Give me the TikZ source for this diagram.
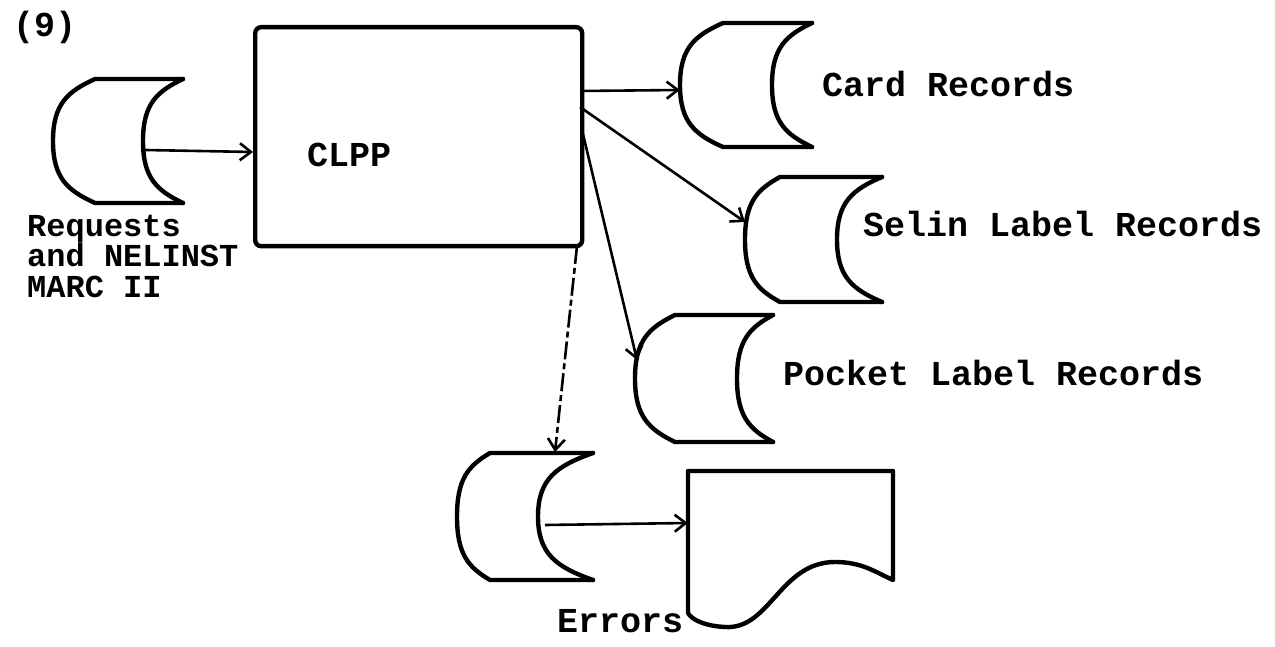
\documentclass[tikz,border=0pt]{standalone}
\usepackage{fontspec}
\setmonofont{Liberation Mono}
\usetikzlibrary{arrows.meta,fit}
\tikzset{
  tapeline/.style={line width=4.4pt, line join=round, line cap=round},
  boxline/.style={line width=4.4pt, rounded corners=6pt},
  flow/.style={line width=2.6pt, -{Straight Barb[length=11pt,width=17pt,line width=2.6pt]}},
  dashflow/.style={flow, dash pattern=on 18pt off 4pt on 6pt off 4pt},
  lbl/.style={font=\fontsize{35}{29.5}\selectfont\ttfamily\bfseries, inner sep=0pt},
  tight/.style={font=\fontsize{32}{29.5}\selectfont\ttfamily\bfseries, inner sep=0pt, text height=19pt, text depth=4pt, anchor=base west},
}
% #1 name, #2 L, #3 T, #4 B, #5 a, #6 R, #7 I
\newcommand\tapesym[7]{%
  \node[fit={(#2,#3) (#6,#4)}, inner sep=0pt] (#1) {};
  \pgfmathsetmacro\tm{(#3+#4)/2}%
  \pgfmathsetmacro\th{#4-#3}%
  \pgfmathsetmacro\td{#6-#7}%
  \draw[tapeline] (#6,#3) -- ({#2+#5},#3)
     .. controls ({#2+0.35*#5},{#3+0.1*\th}) and (#2,{\tm-0.3*\th}) .. (#2,\tm)
     .. controls (#2,{\tm+0.3*\th}) and ({#2+0.35*#5},{#4-0.1*\th}) .. ({#2+#5},#4)
     -- (#6,#4);
  \draw[tapeline] (#6,#3)
     .. controls ({#7+0.35*\td},{#3+0.1*\th}) and (#7,{\tm-0.3*\th}) .. (#7,\tm)
     .. controls (#7,{\tm+0.3*\th}) and ({#7+0.35*\td},{#4-0.1*\th}) .. (#6,#4);
}
\begin{document}
\begin{tikzpicture}[x=1pt,y=-1pt]
\useasboundingbox (0,0) rectangle (1275,647);

% label (9)
\node[lbl, anchor=base west] (num) at (13,37) {(9)};

% CLPP box
\node[boxline, draw, minimum width=327pt, minimum height=219pt, anchor=north west, inner sep=0pt] (clpp) at (253,25) {};
\node[lbl, anchor=base west] (clpptxt) at (307,167) {CLPP};

% tapes
\tapesym{req}{53}{79}{203}{42}{183}{143}
\tapesym{card}{680}{23}{147}{43}{812}{772}
\tapesym{selin}{745}{177}{302}{35}{882}{837}
\tapesym{pocket}{635}{315}{442}{40}{773}{737}
\tapesym{err}{457}{453}{580}{33}{593}{538}

% document (printout)
\node[fit={(688,471) (893,627)}, inner sep=0pt] (doc) {};
\draw[tapeline] (688,613) -- (688,471) -- (893,471) -- (893,580)
   .. controls (875,572) and (862,562) .. (835,562)
   .. controls (780,562) and (770,630) .. (725,627)
   .. controls (705,626) and (692,620) .. (688,613);

% labels
\node[tight] (reqtxt1) at (27,237) {Requests};
\node[tight] (reqtxt2) at (27,267) {and NELINST};
\node[tight] (reqtxt3) at (27,298) {MARC II};
\node[lbl, anchor=base west] (cardtxt) at (822,97) {Card Records};
\node[lbl, anchor=base west] (selintxt) at (863,237) {Selin Label Records};
\node[lbl, anchor=base west] (pockettxt) at (783,385) {Pocket Label Records};
\node[lbl, anchor=base west] (errtxt) at (557,632) {Errors};

% connectors
\coordinate (reqout) at (145,150);
\draw[flow] (reqout) -- (clpp.west |- 0,152);
\coordinate (o1) at (580,91);
\coordinate (o2) at (580,107);
\coordinate (o3) at (582,130);
\coordinate (o4) at (577,246);
\coordinate (selinin) at (745,222);
\coordinate (pocketin) at (637,360);
\draw[flow] (o1) -- (card.west |- 0,90);
\draw[flow] (o2) -- (selinin);
\draw[flow] (o3) -- (pocketin);
\draw[dashflow] (o4) -- (555,452);
\coordinate (errout) at (545,525);
\draw[flow] (errout) -- (doc.west |- 0,523);
\end{tikzpicture}
\end{document}
